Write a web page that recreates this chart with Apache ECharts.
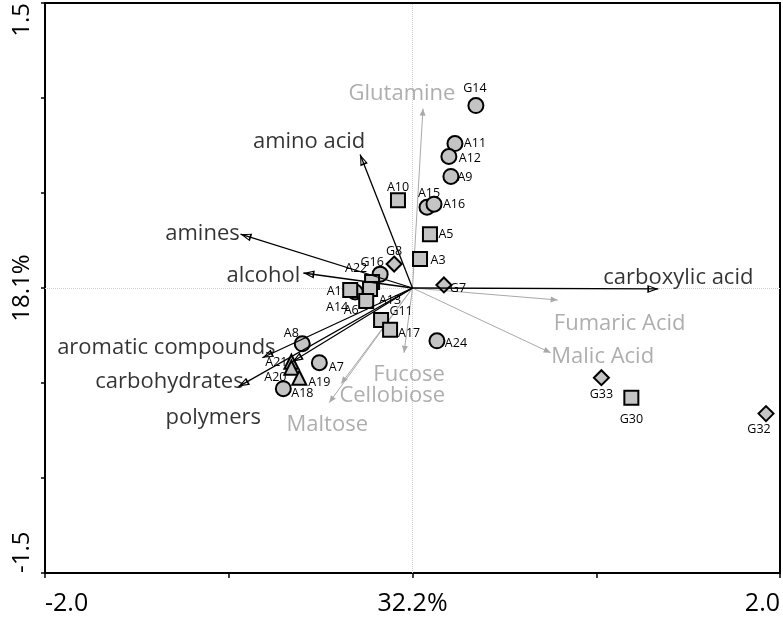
<!DOCTYPE html>
<html><head><meta charset="utf-8">
<script src="https://cdn.jsdelivr.net/npm/echarts@6/dist/echarts.min.js"></script>
<style>html,body{margin:0;padding:0;background:#fff}#c{width:783px;height:628px}</style>
</head><body><div id="c"></div><script>
// ---- tick labels ----
const xTickValues = [-2, 0, 2];
const xTickText = ['-2.0', '32.2%', '2.0'];
const yTickValues = [-1.5, 0, 1.5];
const yTickText = ['-1.5', '18.1%', '1.5'];

// ---- samples ----
const circleNames = ['G14','A11','A12','A9','A15','A16','G16','A14','A24','A8','A7','A18'];
const circleX = [0.345,0.231,0.198,0.209,0.079,0.117,-0.176,-0.312,0.133,-0.600,-0.507,-0.703];
const circleY = [0.960,0.760,0.692,0.587,0.425,0.441,0.073,-0.021,-0.278,-0.294,-0.393,-0.530];

const squareNames = ['A10','A5','A3','A22','A13','A1','A6','G11','A17','G30'];
const squareX = [-0.079,0.095,0.041,-0.220,-0.231,-0.339,-0.252,-0.171,-0.122,1.191];
const squareY = [0.462,0.283,0.152,0.031,-0.005,-0.010,-0.068,-0.168,-0.220,-0.577];

const diamondNames = ['G8','G7','G33','G32'];
const diamondX = [-0.100,0.171,1.028,1.924];
const diamondY = [0.126,0.016,-0.472,-0.661];

const triangleNames = ['A21','A20','A19'];
const triangleX = [-0.659,-0.659,-0.616];
const triangleY = [-0.388,-0.420,-0.472];

// ---- vectors ----
const vectorNames = ['amino acid','amines','alcohol','carboxylic acid','aromatic compounds','polymers','carbohydrates'];
const vectorX = [-0.285,-0.936,-0.594,1.338,-0.817,-0.654,-0.947];
const vectorY = [0.703,0.283,0.079,-0.005,-0.367,-0.388,-0.519];

const sugarNames = ['Glutamine','Fumaric Acid','Malic Acid','Fucose','Cellobiose','Maltose'];
const sugarX = [0.057,0.790,0.752,-0.046,-0.388,-0.453];
const sugarY = [0.944,-0.063,-0.341,-0.341,-0.503,-0.603];

// ---- styling (label offsets in px from the marker / arrow tip) ----
const pointLabelOffset = {
  G14:[-1,-17], A11:[20,0], A12:[21,2], A9:[14,1], A15:[2,-14], A16:[20,0],
  G16:[-8,-12], A14:[-18,15], A24:[19,3], A8:[-11,-10], A7:[17,5], A18:[19,5],
  A10:[0,-13], A5:[16,0], A3:[18,1], A22:[-16,-14], A13:[20,11], A1:[-16,2],
  A6:[-15,10], G11:[20,-8], A17:[19,4], G30:[0,22],
  G8:[0,-13], G7:[14,3], G33:[0,17], G32:[-7,16],
  A21:[-15,1], A20:[-16,10], A19:[20,5]
};
const vectorLabelOffset = {
  'amino acid':[-51,-13], 'amines':[-38,0], 'alcohol':[-40,3], 'carboxylic acid':[20,-11],
  'aromatic compounds':[-96,-10], 'polymers':[-79,56], 'carbohydrates':[-69,-5]
};
const sugarLabelOffset = {
  'Glutamine':[-21,-15], 'Fumaric Acid':[62,24], 'Malic Acid':[52,4],
  'Fucose':[5,22], 'Cellobiose':[51,12], 'Maltose':[-2,22]
};

const FONT = '"Open Sans", "Noto Sans", sans-serif';
const openArrow = 'path://M0,-11L0.01,-11L0,-11Z M0,0L4,11L-4,11Z M0,3.6L-2.3,9.3L2.3,9.3Z';
const grayArrow = 'path://M0,-7L0.01,-7L0,-7Z M0,0L2.6,7L-2.6,7Z';

function pts(names, xs, ys) {
  return names.map((n, i) => ({
    name: n, value: [xs[i], ys[i]],
    label: { offset: pointLabelOffset[n] || [0, 0] }
  }));
}
function scatterSeries(symbol, size, names, xs, ys) {
  return {
    type: 'scatter', symbol: symbol, symbolSize: size, z: 3,
    itemStyle: { color: '#c4c4c4', borderColor: '#000', borderWidth: 2, opacity: 1 },
    label: { show: true, position: 'inside', formatter: '{b}', color: '#000', fontSize: 12.5, fontFamily: FONT },
    data: pts(names, xs, ys)
  };
}
function fmt(vals, texts) {
  return v => { for (let i = 0; i < vals.length; i++) if (Math.abs(v - vals[i]) < 1e-9) return texts[i]; return ''; };
}

const chart = echarts.init(document.getElementById('c'), null, { renderer: 'canvas' });
chart.setOption({
  animation: false,
  backgroundColor: '#fff',
  grid: { left: 45, right: 1, top: 1, bottom: 55, show: true, borderColor: '#000', borderWidth: 2, backgroundColor: 'transparent' },
  xAxis: {
    type: 'value', min: -2, max: 2, interval: 1,
    axisLine: { show: true, onZero: false, lineStyle: { color: '#000', width: 2 } },
    axisTick: { show: true, length: 5, lineStyle: { color: '#000', width: 1.5 } },
    splitLine: { show: false },
    axisLabel: { formatter: fmt(xTickValues, xTickText), fontSize: 25, fontFamily: FONT, color: '#000', margin: 18,
      alignMinLabel: 'left', alignMaxLabel: 'right', showMinLabel: true, showMaxLabel: true }
  },
  yAxis: {
    type: 'value', min: -1.5, max: 1.5, interval: 0.5,
    axisLine: { show: true, onZero: false, lineStyle: { color: '#000', width: 2 } },
    axisTick: { show: true, length: 4, lineStyle: { color: '#000', width: 1.5 } },
    splitLine: { show: false },
    axisLabel: { formatter: fmt(yTickValues, yTickText), rotate: 90, fontSize: 24, fontFamily: FONT, color: '#000', margin: 11,
      alignMinLabel: 'left', alignMaxLabel: 'right', showMinLabel: true, showMaxLabel: true }
  },
  series: [
    {
      type: 'lines', coordinateSystem: 'cartesian2d', z: 2, silent: true,
      lineStyle: { color: '#a9a9a9', width: 1, opacity: 1 },
      symbol: ['none', grayArrow], symbolSize: [0, [6, 14]],
      data: sugarNames.map((n, i) => ({ name: n, coords: [[0, 0], [sugarX[i], sugarY[i]]] })),
      markLine: {
        silent: true, z: 1, symbol: 'none', animation: false,
        lineStyle: { type: 'dotted', color: '#cfcfcf', width: 1 },
        label: { show: false },
        data: [{ xAxis: 0 }, { yAxis: 0 }]
      }
    },
    scatterSeries('circle', 15, circleNames, circleX, circleY),
    scatterSeries('rect', 14, squareNames, squareX, squareY),
    scatterSeries('diamond', [15, 15], diamondNames, diamondX, diamondY),
    scatterSeries('triangle', 14, triangleNames, triangleX, triangleY),
    {
      type: 'lines', coordinateSystem: 'cartesian2d', z: 4, silent: true,
      lineStyle: { color: '#000', width: 1.3, opacity: 1 },
      symbol: ['none', openArrow], symbolSize: [0, [8, 22]],
      data: vectorNames.map((n, i) => ({ name: n, coords: [[0, 0], [vectorX[i], vectorY[i]]] }))
    },
    {
      type: 'scatter', z: 5, silent: true, symbolSize: 1,
      itemStyle: { color: 'rgba(0,0,0,0)' },
      label: { show: true, position: 'inside', formatter: '{b}', fontSize: 22, fontFamily: FONT, color: '#000' },
      data: vectorNames.map((n, i) => ({ name: n, value: [vectorX[i], vectorY[i]], label: { offset: vectorLabelOffset[n] } }))
        .concat(sugarNames.map((n, i) => ({ name: n, value: [sugarX[i], sugarY[i]], label: { offset: sugarLabelOffset[n], color: '#9a9a9a' } })))
    }
  ]
});
</script></body></html>
